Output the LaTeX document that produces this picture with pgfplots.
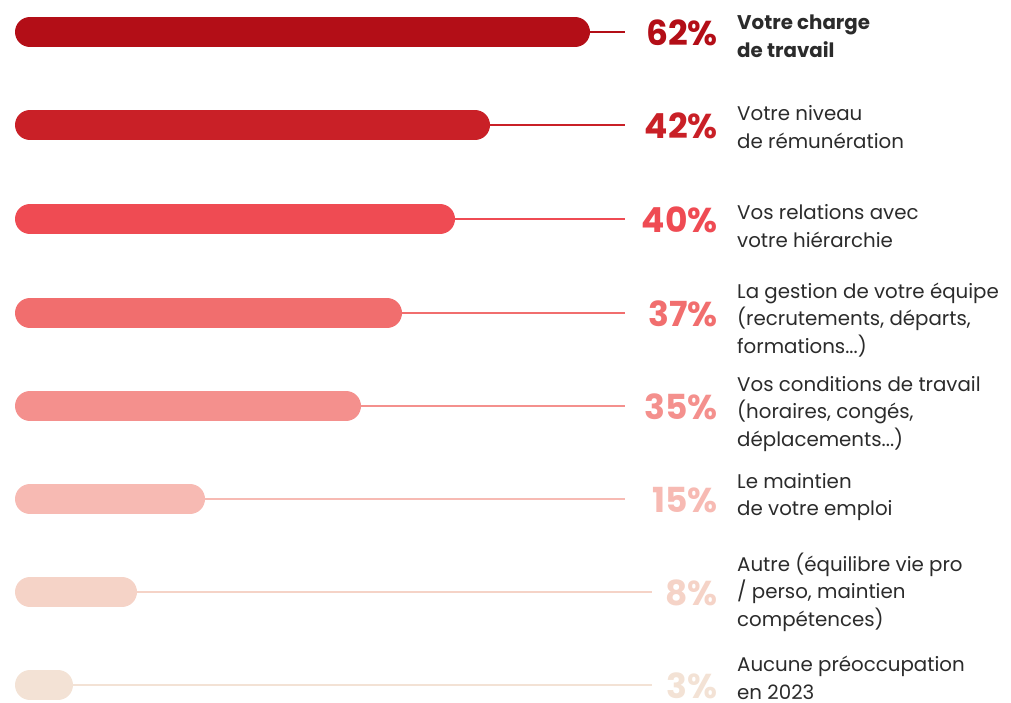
\documentclass[border=0pt]{standalone}
\usepackage{fontspec}
\setmainfont{Poppins}
\usepackage{pgfplots}
\usepackage{pgfplotstable}
\pgfplotsset{compat=1.18}
\definecolor{c1}{HTML}{B30E17}
\definecolor{c2}{HTML}{C92027}
\definecolor{c3}{HTML}{EF4B53}
\definecolor{c4}{HTML}{F16E6E}
\definecolor{c5}{HTML}{F4908D}
\definecolor{c6}{HTML}{F7BAB3}
\definecolor{c7}{HTML}{F5D3C7}
\definecolor{c8}{HTML}{F3E2D5}
\definecolor{txt}{HTML}{2B2B2B}
% y: row centre (px); pct: value shown; barend: drawn bar end (px); lineend: end of the leader line (px)
\pgfplotstableread{
y   pct barend lineend
32  62  590    625
125 42  490    625
219 40  455    625
313 37  402    625
406 35  361    625
499 15  205    625
592 8   137    652
686 3   73     652
}\datatable
\newcommand{\row}[5]{% #1 y, #2 barend, #3 lineend, #4 colour, #5 pct
  \addplot[#4, line width=2.4pt] coordinates {(#2-15,#1) (#3,#1)};
  \addplot[#4, line width=30pt, line cap=round] coordinates {(30,#1) (#2-15,#1)};
  \node[anchor=east, text=#4, font=\fontsize{34.5}{34.5}\selectfont\bfseries, inner sep=0pt] at (axis cs:718,#1+1) {#5\%};
}
\begin{document}
\begin{tikzpicture}
\begin{axis}[
  width=1011pt, height=702pt, scale only axis,
  xmin=0, xmax=1011, ymin=0, ymax=702, y dir=reverse,
  hide axis, clip=false,
]
\row{32}{590}{625}{c1}{62}
\row{125}{490}{625}{c2}{42}
\row{219}{455}{625}{c3}{40}
\row{313}{402}{625}{c4}{37}
\row{406}{361}{625}{c5}{35}
\row{499}{205}{625}{c6}{15}
\row{592}{137}{652}{c7}{8}
\row{685}{73}{652}{c8}{3}
\begin{scope}[every node/.style={anchor=west, align=left, text=txt, inner sep=0pt, font=\fontsize{19.8}{27.5}\selectfont}]
\node at (axis cs:737,36) {\bfseries Votre charge\\\bfseries de travail};
\node at (axis cs:737,127) {Votre niveau\\de rémunération};
\node at (axis cs:737,226) {Vos relations avec\\votre hiérarchie};
\node at (axis cs:737,320) {La gestion de votre équipe\\(recrutements, départs,\\formations...)};
\node at (axis cs:737,414) {Vos conditions de travail\\(horaires, congés,\\déplacements...)};
\node at (axis cs:737,497) {Le maintien\\de votre emploi};
\node at (axis cs:737,592) {Autre (équilibre vie pro\\/ perso, maintien\\compétences)};
\node at (axis cs:737,678) {Aucune préoccupation\\en 2023};
\end{scope}
\end{axis}
\pgfresetboundingbox
\path[use as bounding box] (current axis.south west) rectangle (current axis.north east);
\end{tikzpicture}
\end{document}
